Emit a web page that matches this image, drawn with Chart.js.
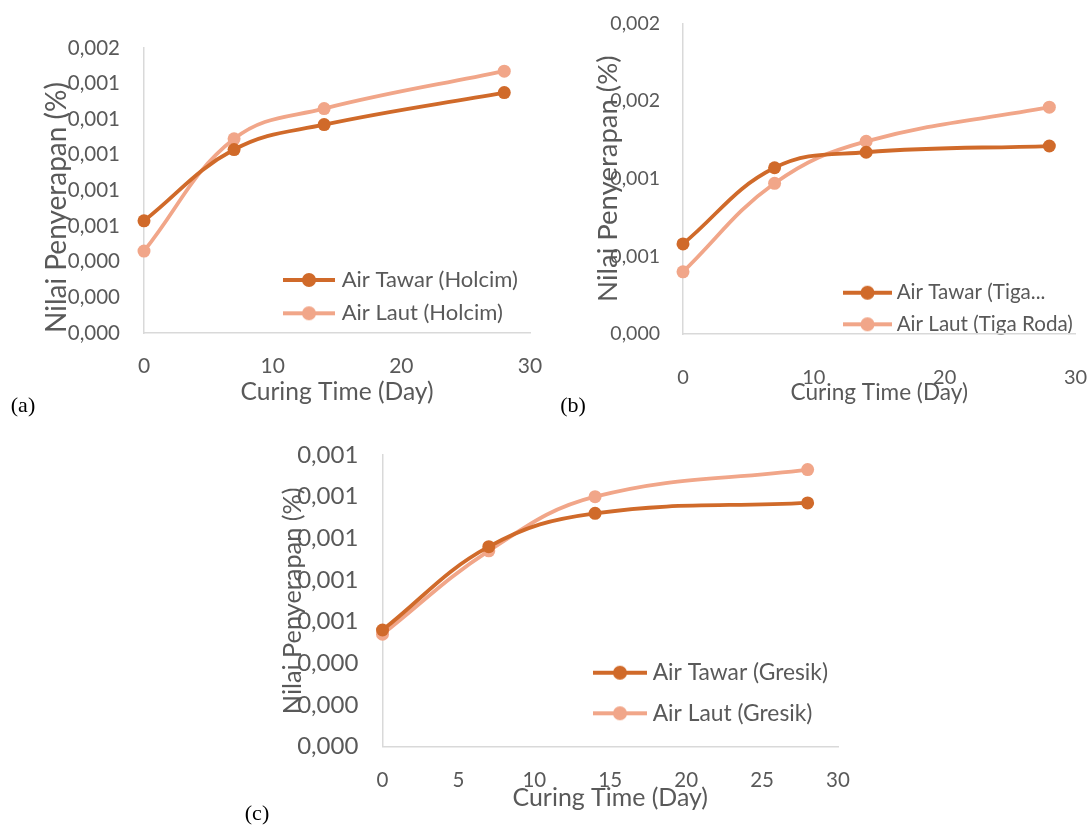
<!DOCTYPE html>
<html><head><meta charset="utf-8">
<script src="https://cdn.jsdelivr.net/npm/chart.js@4.4.1/dist/chart.umd.min.js"></script>
<style>
html,body{margin:0;padding:0;background:#fff;width:1091px;height:825px;overflow:hidden;position:relative;}
canvas{position:absolute;}
.lbl{position:absolute;font-family:"Liberation Serif","DejaVu Serif",serif;font-size:22px;color:#000;transform:translate(-50%,-50%);line-height:1;}
</style></head><body>
<canvas id="ca" width="550" height="420" style="left:0;top:0"></canvas>
<canvas id="cb" width="536" height="420" style="left:555px;top:0"></canvas>
<canvas id="cc" width="620" height="395" style="left:240px;top:430px"></canvas>
<div class="lbl" style="left:23px;top:405px">(a)</div>
<div class="lbl" style="left:573px;top:405px">(b)</div>
<div class="lbl" style="left:257px;top:813px">(c)</div>
<script>
// ---- data ----
const curingDays = [0, 7, 14, 28];
const tawarHolcim = [0.00063, 0.00103, 0.00117, 0.00135];
const lautHolcim = [0.00046, 0.00109, 0.00126, 0.00147];
const tawarTigaRoda = [0.00058, 0.00107, 0.00117, 0.00121];
const lautTigaRoda = [0.00040, 0.00097, 0.00124, 0.00146];
const tawarGresik = [0.00056, 0.00096, 0.00112, 0.00117];
const lautGresik = [0.00054, 0.00094, 0.00120, 0.00133];
const xTickLabelsAB = ['0', '10', '20', '30'];
const xTickLabelsC = ['0', '5', '10', '15', '20', '25', '30'];
const yTickLabelsA = ['0,000','0,000','0,000','0,001','0,001','0,001','0,001','0,001','0,002'];
const yTickLabelsB = ['0,000','0,001','0,001','0,002','0,002'];
const yTickLabelsC = ['0,000','0,000','0,000','0,001','0,001','0,001','0,001','0,001'];
const labelsA = ['Air Tawar (Holcim)', 'Air Laut (Holcim)'];
const labelsB = ['Air Tawar (Tiga...', 'Air Laut (Tiga Roda)'];
const labelsC = ['Air Tawar (Gresik)', 'Air Laut (Gresik)'];
const xTitle = 'Curing Time (Day)';
const yTitle = 'Nilai Penyerapan (%)';

// ---- style ----
const C_TAWAR = '#D06A2A';
const C_LAUT = '#F1A689';
const TXT = '#595959';
const AXIS = '#D9D9D9';
const FONT = 'Lato';

function icon(color, w) {
  const c = document.createElement('canvas');
  c.width = w; c.height = 16;
  const g = c.getContext('2d');
  g.strokeStyle = color; g.lineWidth = 3.8;
  g.beginPath(); g.moveTo(0, 8); g.lineTo(w, 8); g.stroke();
  g.fillStyle = color;
  g.beginPath(); g.arc(w / 2, 8, 7, 0, Math.PI * 2); g.fill();
  return c;
}

const placeLegend = {
  id: 'placeLegend',
  afterLayout(chart, args, o) {
    const lg = chart.legend;
    if (!lg) return;
    const P = o.dy - o.fs;
    const cx = o.xs + o.w / 2 - o.bw / 2;
    lg.left = cx - P;
    lg.top = o.y1 - o.fs / 2 - P;
    lg.right = lg.left + 400;
    lg.bottom = lg.top + 400;
    lg.width = 400; lg.height = 400;
  }
};

function zeroPad(s) {
  s.paddingLeft = 0; s.paddingRight = 0; s.paddingTop = 0; s.paddingBottom = 0;
}

function makeChart(id, c) {
  const ctx = document.getElementById(id);
  const W = ctx.width, H = ctx.height;
  const f = c.fonts;
  const icons = [icon(C_TAWAR, c.leg.w), icon(C_LAUT, c.leg.w)];
  const bw = 2 * (c.leg.text - c.leg.xs - c.leg.w / 2 - f.leg / 2);
  const mk = (vals, i) => ({
    label: c.labels[i],
    data: curingDays.map((d, k) => ({x: d, y: vals[k]})),
    borderColor: i === 0 ? C_TAWAR : C_LAUT,
    backgroundColor: i === 0 ? C_TAWAR : C_LAUT,
    borderWidth: 3.8,
    pointRadius: 6.5,
    pointHoverRadius: 6.5,
    pointBorderWidth: 0,
    tension: 0.4,
    clip: false
  });
  new Chart(ctx, {
    type: 'line',
    data: { datasets: [mk(c.s1, 0), mk(c.s2, 1)] },
    plugins: [placeLegend],
    options: {
      responsive: false,
      animation: false,
      events: [],
      layout: { padding: { left: 0, top: c.area.t, right: W - c.area.r, bottom: 0 } },
      plugins: {
        tooltip: { enabled: false },
        placeLegend: { xs: c.leg.xs, w: c.leg.w, y1: c.leg.y1, dy: c.leg.dy, bw: bw, fs: f.leg },
        legend: {
          display: true,
          position: 'chartArea',
          align: 'start',
          labels: {
            usePointStyle: true,
            pointStyleWidth: bw,
            padding: c.leg.dy - f.leg,
            color: TXT,
            font: { family: FONT, size: f.leg },
            generateLabels(chart) {
              const items = Chart.defaults.plugins.legend.labels.generateLabels(chart);
              items.forEach((it, i) => { it.pointStyle = icons[i]; });
              return items;
            }
          }
        }
      },
      scales: {
        x: {
          type: 'linear', min: 0, max: 30,
          ticks: {
            stepSize: c.xStep, autoSkip: false, maxRotation: 0,
            padding: c.xTickY - c.area.b - f.xTick * 0.6,
            color: TXT, font: { family: FONT, size: f.xTick },
            callback: (v, i) => c.xLabels[i]
          },
          grid: { display: false, drawTicks: false },
          border: { display: true, color: AXIS, width: 1.5 },
          title: {
            display: true, text: xTitle, color: TXT,
            font: { family: FONT, size: f.xTitle },
            padding: { top: 0, bottom: H - c.xTitleY - f.xTitle * 0.6 }
          },
          afterFit: s => { s.height = H - c.area.b; zeroPad(s); }
        },
        y: {
          type: 'linear', min: 0, max: c.yMax,
          ticks: {
            stepSize: c.yStep, autoSkip: false,
            padding: c.area.l - c.yTickRight,
            color: TXT, font: { family: FONT, size: f.yTick },
            callback: (v, i) => c.yLabels[i]
          },
          grid: { display: false, drawTicks: false },
          border: { display: true, color: AXIS, width: 1.5 },
          title: {
            display: true, text: yTitle, color: TXT, align: c.yTitleAlign,
            font: { family: FONT, size: f.yTitle },
            padding: { top: c.yTitleX - f.yTitle * 0.6, bottom: 0 }
          },
          afterFit: s => { s.width = c.area.l; zeroPad(s); }
        }
      }
    }
  });
}

// chart (a): canvas at (0,0)
makeChart('ca', {
  s1: tawarHolcim, s2: lautHolcim, labels: labelsA,
  xLabels: xTickLabelsAB, xStep: 10, yLabels: yTickLabelsA, yMax: 0.0016, yStep: 0.0002,
  area: { l: 144, t: 48, r: 530, b: 333 },
  fonts: { xTick: 21, yTick: 20.5, xTitle: 24.6, yTitle: 28, leg: 22 },
  yTitleAlign: 'start',
  yTickRight: 120, yTitleX: 57, xTickY: 366.7, xTitleY: 391.7,
  leg: { xs: 283, w: 52, text: 341.7, y1: 280, dy: 33.3 }
});
// chart (b): canvas at (555,0)
makeChart('cb', {
  s1: tawarTigaRoda, s2: lautTigaRoda, labels: labelsB,
  xLabels: xTickLabelsAB, xStep: 10, yLabels: yTickLabelsB, yMax: 0.002, yStep: 0.0005,
  area: { l: 128, t: 23.3, r: 520.5, b: 334 },
  fonts: { xTick: 20, yTick: 19.5, xTitle: 22.6, yTitle: 27.5, leg: 20.6 },
  yTitleAlign: 'center',
  yTickRight: 105, yTitleX: 53.3, xTickY: 377.6, xTitleY: 392.8,
  leg: { xs: 843 - 555, w: 49, text: 896.7 - 555, y1: 292.7, dy: 31.6 }
});
// chart (c): canvas at (240,430)
makeChart('cc', {
  s1: tawarGresik, s2: lautGresik, labels: labelsC,
  xLabels: xTickLabelsC, xStep: 5, yLabels: yTickLabelsC, yMax: 0.0014, yStep: 0.0002,
  area: { l: 142.5, t: 25, r: 598, b: 316.7 },
  fonts: { xTick: 20.5, yTick: 24, xTitle: 24.9, yTitle: 25.3, leg: 22.8 },
  yTitleAlign: 'center',
  yTickRight: 118.3, yTitleX: 53.3, xTickY: 350, xTitleY: 367.7,
  leg: { xs: 593 - 240, w: 54, text: 652.7 - 240, y1: 672.7 - 430, dy: 40.6 }
});
</script>
</body></html>
